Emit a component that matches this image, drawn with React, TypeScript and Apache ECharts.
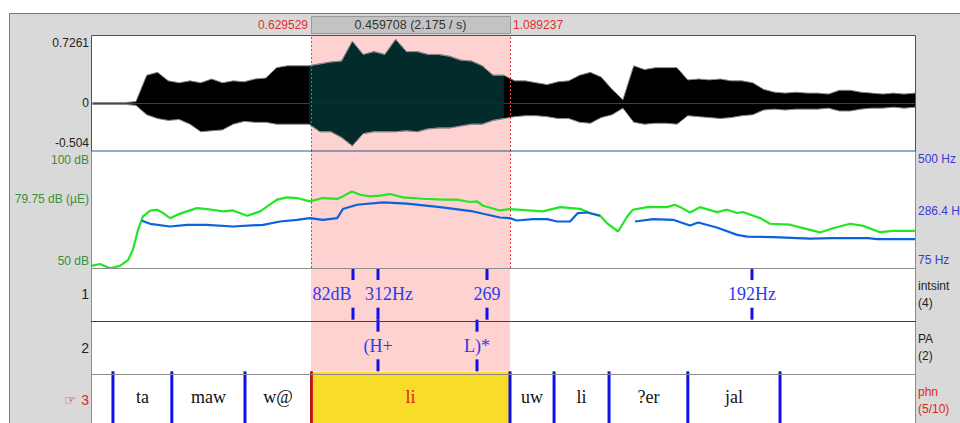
import React, { useEffect, useRef } from "react";
import * as echarts from "echarts";

// ---- time window (seconds) ----
const T_START = 0.1213;
const T_END = 2.0271;
const SEL_START = 0.629529;
const SEL_END = 1.089237;

// ---- waveform envelope (sampled every 0.025 s from 0.125 s) ----
const WAVE_T0 = 0.125;
const WAVE_STEP = 0.025;
const waveUpper = [
  0.01, 0.01, 0.01, 0.01, 0.02, 0.30, 0.33, 0.24, 0.22, 0.24,
  0.22, 0.26, 0.22, 0.24, 0.23, 0.26, 0.27, 0.38, 0.40, 0.40,
  0.40, 0.42, 0.44, 0.45, 0.66, 0.52, 0.55, 0.52, 0.68, 0.55,
  0.55, 0.52, 0.52, 0.50, 0.46, 0.45, 0.40, 0.30, 0.30, 0.24,
  0.24, 0.22, 0.20, 0.23, 0.24, 0.30, 0.33, 0.28, 0.15, 0.04,
  0.40, 0.36, 0.38, 0.38, 0.38, 0.25, 0.26, 0.25, 0.26, 0.24,
  0.24, 0.22, 0.15, 0.12, 0.11, 0.12, 0.11, 0.11, 0.10, 0.14,
  0.14, 0.12, 0.11, 0.10, 0.11, 0.10, 0.11,
];
const waveLower = [
  -0.01, -0.01, -0.01, -0.01, -0.02, -0.12, -0.16, -0.18, -0.17, -0.22,
  -0.30, -0.29, -0.28, -0.22, -0.19, -0.20, -0.20, -0.22, -0.22, -0.22,
  -0.22, -0.30, -0.30, -0.36, -0.45, -0.32, -0.30, -0.30, -0.30, -0.29,
  -0.30, -0.27, -0.26, -0.26, -0.24, -0.22, -0.22, -0.18, -0.16, -0.14,
  -0.13, -0.13, -0.14, -0.16, -0.16, -0.20, -0.21, -0.15, -0.12, -0.05,
  -0.20, -0.22, -0.21, -0.21, -0.22, -0.13, -0.14, -0.15, -0.16, -0.15,
  -0.13, -0.12, -0.07, -0.06, -0.07, -0.06, -0.06, -0.06, -0.05, -0.08,
  -0.08, -0.06, -0.05, -0.05, -0.04, -0.05, -0.04,
];

// ---- intensity (dB) ----
const intensityTimes = [
  0.122, 0.142, 0.165, 0.188, 0.207, 0.218, 0.230, 0.241, 0.258, 0.274,
  0.288, 0.304, 0.320, 0.343, 0.366, 0.389, 0.426, 0.449, 0.482, 0.512,
  0.551, 0.574, 0.597, 0.627, 0.657, 0.690, 0.703, 0.724, 0.743, 0.766,
  0.789, 0.812, 0.842, 0.888, 0.934, 0.967, 0.997, 1.013, 1.027, 1.066,
  1.089, 1.165, 1.205, 1.251, 1.274, 1.297, 1.313, 1.339, 1.360, 1.373,
  1.406, 1.452, 1.470, 1.487, 1.505, 1.528, 1.567, 1.590, 1.614, 1.627,
  1.667, 1.690, 1.736, 1.782, 1.805, 1.835, 1.875, 1.905, 1.944, 1.974,
  2.025,
];
const intensityDb = [
  50.9, 51.7, 49.9, 50.9, 53.4, 57.7, 66.3, 72.0, 74.5, 74.9,
  73.5, 71.3, 72.7, 74.2, 75.6, 75.2, 74.2, 74.6, 72.3, 74.2,
  79.2, 80.2, 79.9, 78.5, 79.9, 79.5, 80.6, 82.7, 81.3, 80.6,
  80.9, 81.6, 80.2, 79.6, 79.2, 79.2, 78.2, 78.5, 76.6, 74.6,
  75.2, 74.2, 76.0, 75.3, 73.5, 72.4, 69.2, 65.6, 72.0, 74.9,
  76.0, 76.0, 77.0, 75.6, 73.7, 76.0, 73.9, 74.9, 73.5, 73.9,
  71.3, 68.9, 68.5, 66.3, 65.2, 67.0, 68.9, 68.0, 65.3, 65.9,
  65.9,
];

// ---- pitch (Hz), null = unvoiced gap ----
const pitchTimes = [
  0.239, 0.258, 0.304, 0.343, 0.389, 0.449, 0.519, 0.558, 0.597, 0.627,
  0.657, 0.690, 0.703, 0.736, 0.796, 0.851, 0.928, 1.004, 1.066, 1.089,
  1.105, 1.142, 1.175, 1.198, 1.228, 1.246, 1.267, 1.297, 1.340, 1.378,
  1.420, 1.466, 1.505, 1.524, 1.567, 1.614, 1.637, 1.697, 1.782, 1.835,
  1.916, 1.937, 2.025,
];
const pitchHz = [
  246.5, 235.5, 225.7, 231.9, 231.9, 225.7, 231.9, 243.9, 250.1, 256.3,
  250.1, 256.3, 289.1, 304.8, 313.3, 308.5, 296.4, 280.4, 258.5, 256.3,
  247.6, 252.6, 252.6, 243.9, 243.9, 274.5, 276.7, 264.7, null, 243.9,
  252.6, 250.1, 229.3, 240.3, 222.0, 195.4, 189.2, 187.0, 182.0, 183.3,
  183.3, 179.7, 179.7,
];

// ---- tiers ----
const tier1Times = [0.7265, 0.7843, 1.0361, 1.6482];
const tier1Labels = ["82dB", "312Hz", "269", "192Hz"];
const tier2Times = [0.7843, 1.013];
const tier2Labels = ["(H+", "L)*"];
const tier3Bounds = [0.172, 0.308, 0.477, 0.629529, 1.089237, 1.191, 1.318, 1.5, 1.713];
const tier3Labels = ["", "ta", "maw", "w@", "li", "uw", "li", "?er", "jal", ""];
const SELECTED_INTERVAL = 4;

// label nudges (px) so that crowded point labels do not collide, as in the editor
const tier1LabelShift = [-21, 11, 0, 0];

const SANS = '"Liberation Sans", Arial, sans-serif';
const SERIF = '"Liberation Serif", "Times New Roman", serif';
const PINK = "#ffd2d2";
const TIER_BLUE = "#1010e8";
const LABEL_BLUE = "#2a3cf0";

export default function App() {
  const ref = useRef<HTMLDivElement>(null);

  useEffect(() => {
    if (!ref.current) return;
    const chart = echarts.init(ref.current, undefined, { renderer: "svg" });

    const waveT = waveUpper.map((_, i) => +(WAVE_T0 + i * WAVE_STEP).toFixed(4));
    const upperData = waveUpper.map((v, i) => [waveT[i], v]);
    const lowerData = waveLower.map((v, i) => [waveT[i], v]);
    const inSel = (t: number) => t >= SEL_START - 0.006 && t <= SEL_END;
    const upperIn = upperData.filter((d) => inSel(d[0]));
    const lowerIn = lowerData.filter((d) => inSel(d[0]));

    const intensityData = intensityTimes.map((t, i) => [t, intensityDb[i]]);
    const pitchData = pitchTimes.map((t, i) => [t, pitchHz[i] === null ? "-" : pitchHz[i]]);

    const intervals = tier3Labels.map((_, i) => [
      i === 0 ? T_START : tier3Bounds[i - 1],
      i === tier3Labels.length - 1 ? T_END : tier3Bounds[i],
      i,
    ]);

    const selMarkArea = {
      silent: true,
      itemStyle: { color: PINK },
      data: [[{ xAxis: SEL_START }, { xAxis: SEL_END }]],
    };
    const selMarkLine = {
      silent: true,
      symbol: ["none", "none"],
      label: { show: false },
      lineStyle: { color: "#f03c3c", type: [2, 2], width: 1 },
      data: [{ xAxis: SEL_START }, { xAxis: SEL_END }],
    };

    const waveArea = (data: any[], fill: string, withMarks: boolean) => ({
      type: "line",
      xAxisIndex: 0,
      yAxisIndex: 0,
      data,
      symbol: "none",
      smooth: false,
      lineStyle: { color: "#8a8a8a", width: 1 },
      areaStyle: { color: fill, opacity: 1 },
      z: 3,
      ...(withMarks ? { markArea: selMarkArea, markLine: selMarkLine } : {}),
    });

    const txt = (x: number, y: number, text: string, fill: string, align: string, size = 12, family = SANS) => ({
      type: "text",
      x,
      y,
      z: 100,
      silent: true,
      style: { text, fill, align, verticalAlign: "middle", font: `${size}px ${family}` },
    });
    const hline = (x1: number, x2: number, y: number, stroke: string) => ({
      type: "line",
      z: 50,
      silent: true,
      shape: { x1, y1: y, x2, y2: y },
      style: { stroke, lineWidth: 1 },
    });
    const vline = (x: number, y1: number, y2: number, stroke: string) => ({
      type: "line",
      z: 50,
      silent: true,
      shape: { x1: x, y1, x2: x, y2 },
      style: { stroke, lineWidth: 1 },
    });

    const option: any = {
      animation: false,
      backgroundColor: "#ffffff",
      grid: [
        { left: 91, top: 35, width: 825, height: 116 },
        { left: 91, top: 151, width: 825, height: 117 },
        { left: 91, top: 268, width: 825, height: 159 },
        { left: 91, top: 16, width: 825, height: 17 },
      ],
      xAxis: [0, 1, 2, 3].map((g) => ({ type: "value", gridIndex: g, min: T_START, max: T_END, show: false })),
      yAxis: [
        { type: "value", gridIndex: 0, min: -0.504, max: 0.7261, show: false },
        { type: "value", gridIndex: 1, min: 50, max: 100, show: false },
        { type: "value", gridIndex: 1, min: 75, max: 500, show: false },
        { type: "value", gridIndex: 2, min: 0, max: 3, inverse: true, show: false },
        { type: "value", gridIndex: 3, min: 0, max: 1, show: false },
      ],
      graphic: [
        { type: "rect", z: -10, silent: true, shape: { x: 9, y: 13, width: 951, height: 410 }, style: { fill: "#d9d9d9" } },
        { type: "rect", z: -9, silent: true, shape: { x: 91, y: 35, width: 825, height: 388 }, style: { fill: "#ffffff" } },
        hline(9, 960, 13.5, "#7a7a7a"),
        vline(9.5, 13, 423, "#7a7a7a"),
        {
          type: "rect", z: 60, silent: true,
          shape: { x: 91.5, y: 35.5, width: 824, height: 115.5 },
          style: { fill: "none", stroke: "#1d5f82", lineWidth: 1 },
        },
        vline(91.5, 151, 423, "#8c8c8c"),
        vline(915.5, 151, 423, "#8c8c8c"),
        hline(91, 916, 268.5, "#8c8c8c"),
        hline(91, 916, 321.5, "#404040"),
        hline(91, 916, 374.5, "#8c8c8c"),
        txt(89, 43, "0.7261", "#222", "right"),
        txt(89, 103, "0", "#222", "right"),
        txt(89, 143, "-0.504", "#222", "right"),
        txt(89, 160, "100 dB", "#3a8f3a", "right"),
        txt(89, 199, "79.75 dB (µE)", "#3a8f3a", "right"),
        txt(89, 261, "50 dB", "#3a8f3a", "right"),
        txt(918, 159, "500 Hz", "#3a3ad0", "left"),
        txt(918, 211, "286.4 H", "#3a3ad0", "left"),
        txt(918, 260, "75 Hz", "#3a3ad0", "left"),
        txt(89, 294, "1", "#222", "right", 14),
        txt(89, 348, "2", "#222", "right", 14),
        txt(89, 400, "☞ 3", "#e02424", "right", 14),
        txt(918, 286, "intsint", "#222", "left"),
        txt(918, 303, "(4)", "#222", "left"),
        txt(918, 339, "PA", "#222", "left"),
        txt(918, 356, "(2)", "#222", "left"),
        txt(918, 392, "phn", "#e02424", "left"),
        txt(918, 409, "(5/10)", "#e02424", "left"),
      ],
      series: [
        waveArea(upperData, "#000000", true),
        waveArea(lowerData, "#000000", false),
        waveArea(upperIn, "#032b2b", false),
        waveArea(lowerIn, "#032b2b", false),
        {
          type: "line",
          xAxisIndex: 1,
          yAxisIndex: 1,
          data: intensityData,
          symbol: "none",
          lineStyle: { color: "#22e622", width: 2.2 },
          z: 4,
          markArea: selMarkArea,
          markLine: selMarkLine,
        },
        {
          type: "line",
          xAxisIndex: 1,
          yAxisIndex: 2,
          data: pitchData,
          symbol: "none",
          connectNulls: false,
          lineStyle: { color: "#0a62dc", width: 2.2 },
          z: 5,
        },
        // selection shading in tiers 1-2
        {
          type: "custom",
          xAxisIndex: 2,
          yAxisIndex: 3,
          z: 1,
          silent: true,
          data: [[SEL_START, SEL_END]],
          renderItem: (params: any, api: any) => {
            const a = api.coord([api.value(0), 0]);
            const b = api.coord([api.value(1), 2]);
            return { type: "rect", shape: { x: a[0], y: a[1], width: b[0] - a[0], height: b[1] - a[1] }, style: { fill: PINK } };
          },
        },
        // tier 3 intervals
        {
          type: "custom",
          xAxisIndex: 2,
          yAxisIndex: 3,
          z: 2,
          silent: true,
          data: intervals,
          renderItem: (params: any, api: any) => {
            const idx = api.value(2);
            const a = api.coord([api.value(0), 2]);
            const b = api.coord([api.value(1), 3]);
            const sel = idx === SELECTED_INTERVAL;
            const children: any[] = [];
            if (sel) {
              children.push({ type: "rect", shape: { x: a[0], y: a[1] + 0.5, width: b[0] - a[0], height: b[1] - a[1] }, style: { fill: "#f9dc28" } });
            }
            children.push({
              type: "text",
              x: (a[0] + b[0]) / 2,
              y: a[1] + 26,
              style: { text: tier3Labels[idx], fill: sel ? "#e01e1e" : "#111", align: "center", verticalAlign: "middle", font: `18px ${SERIF}` },
            });
            return { type: "group", children };
          },
        },
        // tier 3 boundaries
        {
          type: "custom",
          xAxisIndex: 2,
          yAxisIndex: 3,
          z: 3,
          silent: true,
          data: tier3Bounds.map((t, i) => [t, i]),
          renderItem: (params: any, api: any) => {
            const i = api.value(1);
            const a = api.coord([api.value(0), 2]);
            const b = api.coord([api.value(0), 3]);
            if (i === SELECTED_INTERVAL - 1) {
              return {
                type: "group",
                children: [
                  { type: "rect", shape: { x: a[0] - 1, y: a[1], width: 3, height: b[1] - a[1] }, style: { fill: "#e02020" } },
                  { type: "rect", shape: { x: a[0] - 0.5, y: a[1], width: 1, height: b[1] - a[1] }, style: { fill: "#7a1a10" } },
                ],
              };
            }
            return { type: "rect", shape: { x: a[0] - 1.5, y: a[1], width: 3, height: b[1] - a[1] }, style: { fill: TIER_BLUE } };
          },
        },
        // point tiers 1 & 2
        {
          type: "custom",
          xAxisIndex: 2,
          yAxisIndex: 3,
          z: 4,
          silent: true,
          data: [
            ...tier1Times.map((t, i) => [t, 0, i]),
            ...tier2Times.map((t, i) => [t, 1, i]),
          ],
          renderItem: (params: any, api: any) => {
            const k = api.value(1);
            const idx = api.value(2);
            const top = api.coord([api.value(0), k]);
            const bot = api.coord([api.value(0), k + 1]);
            const label = k === 0 ? tier1Labels[idx] : tier2Labels[idx];
            const shift = k === 0 ? tier1LabelShift[idx] : 0;
            const m = 12;
            return {
              type: "group",
              children: [
                { type: "rect", shape: { x: top[0] - 1.5, y: top[1], width: 3, height: m }, style: { fill: TIER_BLUE } },
                { type: "rect", shape: { x: top[0] - 1.5, y: bot[1] - m, width: 3, height: m }, style: { fill: TIER_BLUE } },
                {
                  type: "text",
                  x: top[0] + shift,
                  y: (top[1] + bot[1]) / 2,
                  style: { text: label, fill: LABEL_BLUE, align: "center", verticalAlign: "middle", font: `18px ${SERIF}` },
                },
              ],
            };
          },
        },
        // time bar with selection
        {
          type: "custom",
          xAxisIndex: 3,
          yAxisIndex: 4,
          z: 5,
          silent: true,
          data: [[SEL_START, SEL_END]],
          renderItem: (params: any, api: any) => {
            const s = api.value(0);
            const e = api.value(1);
            const a = api.coord([s, 1]);
            const b = api.coord([e, 0]);
            const d = e - s;
            const midY = (a[1] + b[1]) / 2;
            return {
              type: "group",
              children: [
                { type: "rect", shape: { x: a[0] + 0.5, y: a[1] + 0.5, width: b[0] - a[0], height: b[1] - a[1] }, style: { fill: "#c3c3c3", stroke: "#9a9a9a", lineWidth: 1 } },
                { type: "text", x: (a[0] + b[0]) / 2, y: midY, style: { text: `${d.toFixed(6)} (${(1 / d).toFixed(3)} / s)`, fill: "#333", align: "center", verticalAlign: "middle", font: `12.5px ${SANS}` } },
                { type: "text", x: a[0] - 3, y: midY, style: { text: s.toFixed(6), fill: "#e03030", align: "right", verticalAlign: "middle", font: `12px ${SANS}` } },
                { type: "text", x: b[0] + 3, y: midY, style: { text: e.toFixed(6), fill: "#e03030", align: "left", verticalAlign: "middle", font: `12px ${SANS}` } },
              ],
            };
          },
        },
      ],
    };

    chart.setOption(option);
    return () => chart.dispose();
  }, []);

  return (
    <div
      ref={ref}
      style={{ position: "fixed", left: 0, top: 0, width: 960, height: 423, background: "#fff" }}
    />
  );
}
